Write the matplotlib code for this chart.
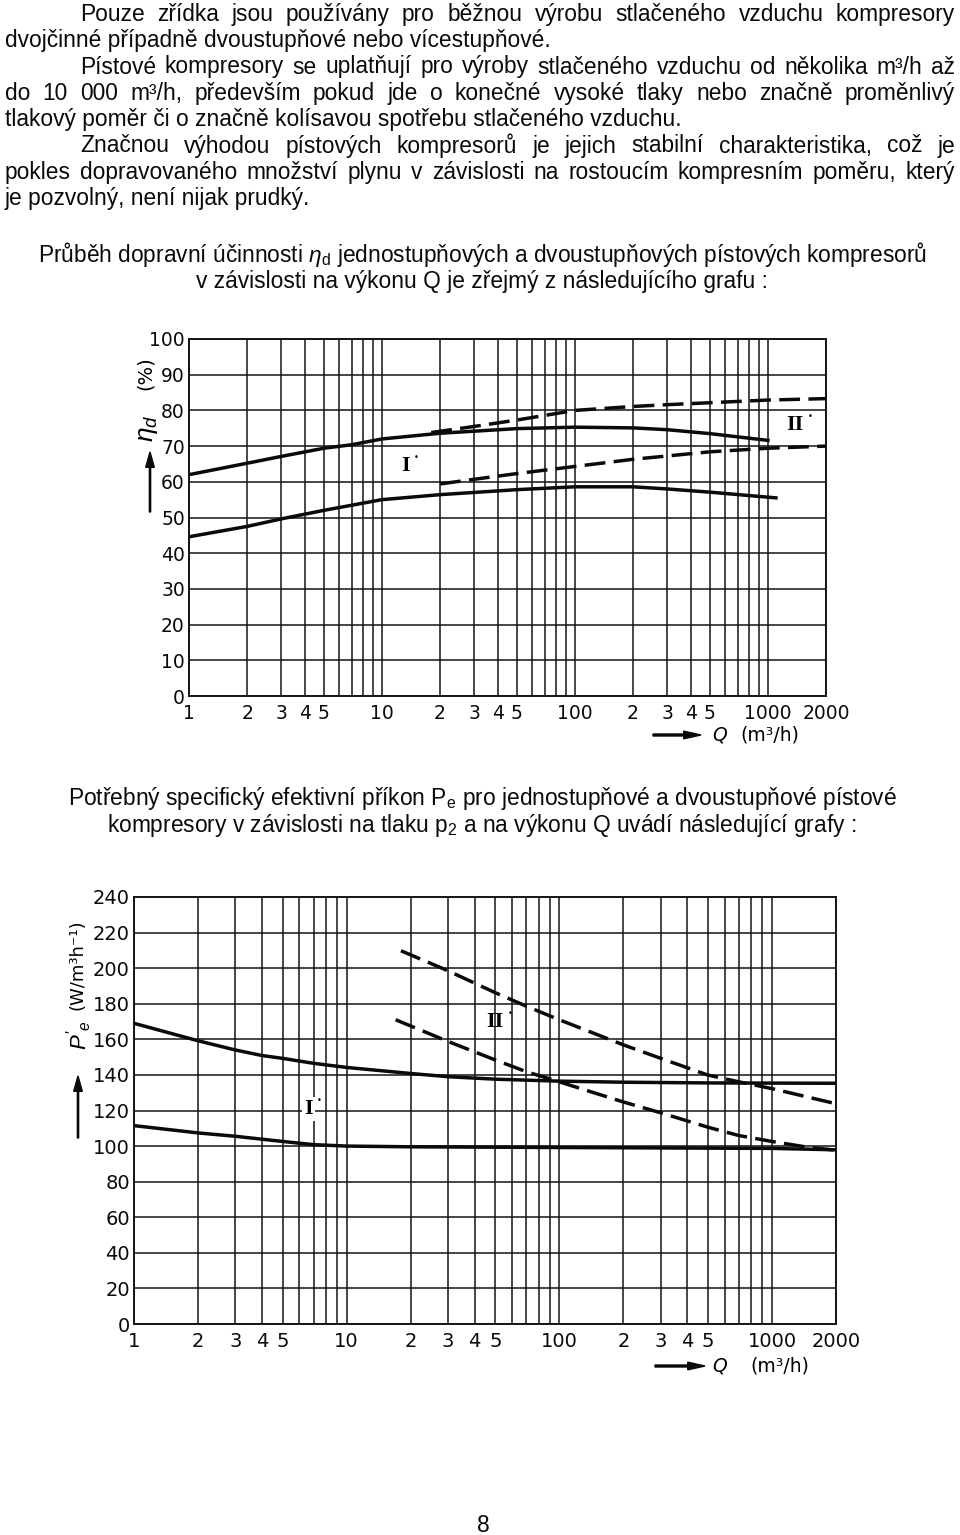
import matplotlib
matplotlib.use("Agg")
import matplotlib.pyplot as plt
import numpy as np

plt.rcParams['mathtext.fontset'] = 'custom'
plt.rcParams['mathtext.rm'] = 'Liberation Sans'
plt.rcParams['mathtext.it'] = 'Liberation Sans:italic'

# ---------------- data ----------------
# Chart 1: eta_d (%) vs Q (m3/h)
q1_up_solid = [1, 2, 3, 5, 7, 10, 20, 50, 100, 200, 300, 500, 1000]
e1_up_solid = [62.0, 65.2, 67.1, 69.4, 70.4, 72.0, 73.6, 74.9, 75.3, 75.1, 74.6, 73.5, 71.6]
q1_lo_solid = [1, 2, 3, 5, 10, 20, 50, 100, 200, 300, 500, 1100]
e1_lo_solid = [44.6, 47.5, 49.6, 52.0, 55.0, 56.4, 57.8, 58.6, 58.6, 58.0, 57.1, 55.5]
q1_up_dash = [18, 30, 50, 100, 200, 300, 1000, 2000]
e1_up_dash = [73.8, 75.5, 77.3, 80.0, 81.1, 81.6, 82.9, 83.3]
q1_lo_dash = [20, 30, 50, 100, 200, 500, 1000, 2000]
e1_lo_dash = [59.4, 60.7, 62.3, 64.3, 66.3, 68.4, 69.4, 70.0]

# Chart 2: P'e (W/m3h-1) vs Q (m3/h)
q2_up_solid = [1, 2, 3, 4, 5, 7, 10, 20, 30, 50, 100, 200, 500, 2000]
p2_up_solid = [169, 159.2, 154, 150.9, 149.3, 146.5, 144.2, 140.8, 139, 137.6, 136.5, 135.9, 135.5, 135.3]
q2_lo_solid = [1, 2, 3, 5, 7, 10, 20, 100, 1000, 2000]
p2_lo_solid = [111.5, 107.4, 105.5, 102.6, 100.8, 100.0, 99.6, 99.2, 98.7, 97.9]
q2_up_dash = [18, 30, 50, 70, 100, 200, 300, 500, 700, 1000, 2000]
p2_up_dash = [209.8, 198.5, 186.2, 178.6, 171, 156.9, 149.3, 139.9, 136.1, 132.3, 123.8]
q2_lo_dash = [17, 30, 50, 70, 100, 200, 300, 500, 700, 1000, 1500, 2000]
p2_lo_dash = [171, 158.8, 148.4, 141.8, 136.1, 124.8, 118.7, 110.6, 105.9, 102.6, 99.2, 97.7]

x_ticks = [1, 2, 3, 4, 5, 10, 20, 30, 40, 50, 100, 200, 300, 400, 500, 1000, 2000]
x_tick_labels = ['1', '2', '3', '4', '5', '10', '2', '3', '4', '5', '100', '2', '3', '4', '5', '1000', '2000']
x_grid = [1, 2, 3, 4, 5, 6, 7, 8, 9, 10, 20, 30, 40, 50, 60, 70, 80, 90,
          100, 200, 300, 400, 500, 600, 700, 800, 900, 1000, 2000]
y1_ticks = list(range(0, 101, 10))
y2_ticks = list(range(0, 241, 20))

para1 = [
    ("Pouze zřídka jsou používány pro běžnou výrobu stlačeného vzduchu kompresory", True, True),
    ("dvojčinné případně dvoustupňové nebo vícestupňové.", False, False),
    ("Pístové kompresory se uplatňují pro výroby stlačeného vzduchu od několika m³/h až", True, True),
    ("do 10 000 m³/h, především pokud jde o konečné vysoké tlaky nebo značně proměnlivý", False, True),
    ("tlakový poměr či o značně kolísavou spotřebu stlačeného vzduchu.", False, False),
    ("Značnou výhodou pístových kompresorů je jejich stabilní charakteristika, což je", True, True),
    ("pokles dopravovaného množství plynu v závislosti na rostoucím kompresním poměru, který", False, True),
    ("je pozvolný, není nijak prudký.", False, False),
]
caption1 = ["Průběh dopravní účinnosti $\\eta_{\\rm d}$ jednostupňových a dvoustupňových pístových kompresorů",
            "v závislosti na výkonu Q je zřejmý z následujícího grafu :"]
caption2 = ["Potřebný specifický efektivní příkon P$_{\\rm e}$ pro jednostupňové a dvoustupňové pístové",
            "kompresory v závislosti na tlaku p$_{2}$ a na výkonu Q uvádí následující grafy :"]

# ---------------- figure ----------------
W, H = 960, 1535
fig = plt.figure(figsize=(W / 100, H / 100), dpi=100)
fig.patch.set_facecolor('white')
renderer = fig.canvas.get_renderer()

TXT = dict(family=['Liberation Sans', 'DejaVu Sans'], fontsize=16.4, color='#0a0a0a')
BASE = 7  # px from line centre to baseline


def px(x, y):
    return x / W, 1 - y / H


def word_width(w):
    t = fig.text(0, 0, w, **TXT)
    bb = t.get_window_extent(renderer)
    t.remove()
    return bb.width


line_y = [14, 40, 66.5, 93, 119, 145.5, 172, 198]
left, right, indent = 5, 955, 80
for (line, ind, just), yy in zip(para1, line_y):
    x0 = indent if ind else left
    words = line.split(' ')
    if just:
        widths = [word_width(w) for w in words]
        gap = (right - x0 - sum(widths)) / (len(words) - 1)
        x = x0
        for w, wd in zip(words, widths):
            fig.text(*px(x, yy + BASE), w, va='baseline', ha='left', **TXT)
            x += wd + gap
    else:
        fig.text(*px(x0, yy + BASE), line, va='baseline', ha='left', **TXT)

for s, yy in zip(caption1, [255, 281]):
    fig.text(*px(482, yy + BASE), s, va='baseline', ha='center', **TXT)
for s, yy in zip(caption2, [798, 825]):
    fig.text(*px(482, yy + BASE), s, va='baseline', ha='center', **TXT)
fig.text(*px(483, 1525 + BASE), "8", va='baseline', ha='center', **TXT)

TICKF = ['DejaVu Sans']
GRID_C = '#151515'
LW_CURVE = 2.5
DASH = (0, (6.0, 2.4))


def setup_axes(rect, ymax, yticks, tick_fs):
    ax = fig.add_axes(rect)
    ax.set_xscale('log')
    ax.set_xlim(1, 2000)
    ax.set_ylim(0, ymax)
    for g in x_grid:
        ax.axvline(g, color=GRID_C, lw=1.1, zorder=1)
    for g in yticks:
        ax.axhline(g, color=GRID_C, lw=1.1, zorder=1)
    ax.set_xticks(x_ticks)
    ax.set_xticklabels(x_tick_labels)
    ax.xaxis.set_minor_locator(matplotlib.ticker.NullLocator())
    ax.set_yticks(yticks)
    ax.set_yticklabels([str(v) for v in yticks])
    ax.tick_params(length=0, pad=3, labelsize=tick_fs, colors='#0a0a0a')
    ax.tick_params(axis='x', pad=6)
    for lab in ax.get_xticklabels() + ax.get_yticklabels():
        lab.set_family(TICKF)
    for sp in ax.spines.values():
        sp.set_linewidth(1.4)
        sp.set_color(GRID_C)
    return ax


def roman(ax, x, y, s, dx, white=False):
    kw = dict(bbox=dict(facecolor='white', edgecolor='none', pad=1.5)) if white else {}
    ax.text(x, y, s, family='Liberation Serif', fontsize=16, fontweight='bold', ha='center', va='center',
            zorder=4, **kw)
    ax.annotate("•", xy=(x, y), xytext=(dx, 6), textcoords='offset points', fontsize=6,
                ha='center', va='center', zorder=5)


def arrow_v(x, y0, length):
    fig.add_artist(matplotlib.patches.FancyArrow(x / W, 1 - y0 / H, 0, length / H, width=0.0013,
                                                 head_width=0.009, head_length=0.01,
                                                 length_includes_head=True, color='#0a0a0a',
                                                 transform=fig.transFigure))


def arrow_h(x0, y, length):
    fig.add_artist(matplotlib.patches.FancyArrow(x0 / W, 1 - y / H, length / W, 0, width=0.0013,
                                                 head_width=0.005, head_length=0.018,
                                                 length_includes_head=True, color='#0a0a0a',
                                                 transform=fig.transFigure))


# Chart 1
r1 = (189 / W, 1 - 696 / H, (826 - 189) / W, (696 - 339) / H)
ax1 = setup_axes(r1, 100, y1_ticks, 13.5)
ax1.plot(q1_up_solid, e1_up_solid, color='#0a0a0a', lw=LW_CURVE, zorder=3)
ax1.plot(q1_lo_solid, e1_lo_solid, color='#0a0a0a', lw=LW_CURVE, zorder=3)
ax1.plot(q1_up_dash, e1_up_dash, color='#0a0a0a', lw=LW_CURVE, ls=DASH, zorder=3, clip_on=False)
ax1.plot(q1_lo_dash, e1_lo_dash, color='#0a0a0a', lw=LW_CURVE, ls=DASH, zorder=3, clip_on=False)
roman(ax1, 13.2, 64.5, "I", 8)
roman(ax1, 1380, 76.0, "II", 11)

fig.text(*px(145, 373), "(%)", rotation=90, ha='center', va='center', family=TICKF, fontsize=14)
fig.text(*px(147, 428), r"$\eta_d$", rotation=90, ha='center', va='center', fontsize=19)
arrow_v(150, 512, 60)
arrow_h(653, 735, 48)
fig.text(*px(720, 735), "Q", ha='center', va='center', family=TICKF, fontsize=13.5, style='italic')
fig.text(*px(770, 735), "(m³/h)", ha='center', va='center', family=TICKF, fontsize=13.5)

# Chart 2
r2 = (134 / W, 1 - 1324 / H, (836 - 134) / W, (1324 - 897) / H)
ax2 = setup_axes(r2, 240, y2_ticks, 14)
ax2.plot(q2_up_solid, p2_up_solid, color='#0a0a0a', lw=LW_CURVE, zorder=3)
ax2.plot(q2_lo_solid, p2_lo_solid, color='#0a0a0a', lw=LW_CURVE, zorder=3)
ax2.plot(q2_up_dash, p2_up_dash, color='#0a0a0a', lw=LW_CURVE, ls=DASH, zorder=3, clip_on=False)
ax2.plot(q2_lo_dash, p2_lo_dash, color='#0a0a0a', lw=LW_CURVE, ls=DASH, zorder=3, clip_on=False)
roman(ax2, 6.6, 121, "I", 8, white=True)
roman(ax2, 50, 170, "II", 11)

fig.text(*px(78, 965), "(W/m³h⁻¹)", rotation=90, ha='center', va='center', family=TICKF, fontsize=13)
fig.text(*px(79, 1035), r"$P'_{e}$", rotation=90, ha='center', va='center', fontsize=16)
arrow_v(78, 1138, 62)
arrow_h(655, 1366, 50)
fig.text(*px(720, 1366), "Q", ha='center', va='center', family=TICKF, fontsize=13.5, style='italic')
fig.text(*px(780, 1366), "(m³/h)", ha='center', va='center', family=TICKF, fontsize=13.5)

fig.savefig("out.png", dpi=100, facecolor='white')
